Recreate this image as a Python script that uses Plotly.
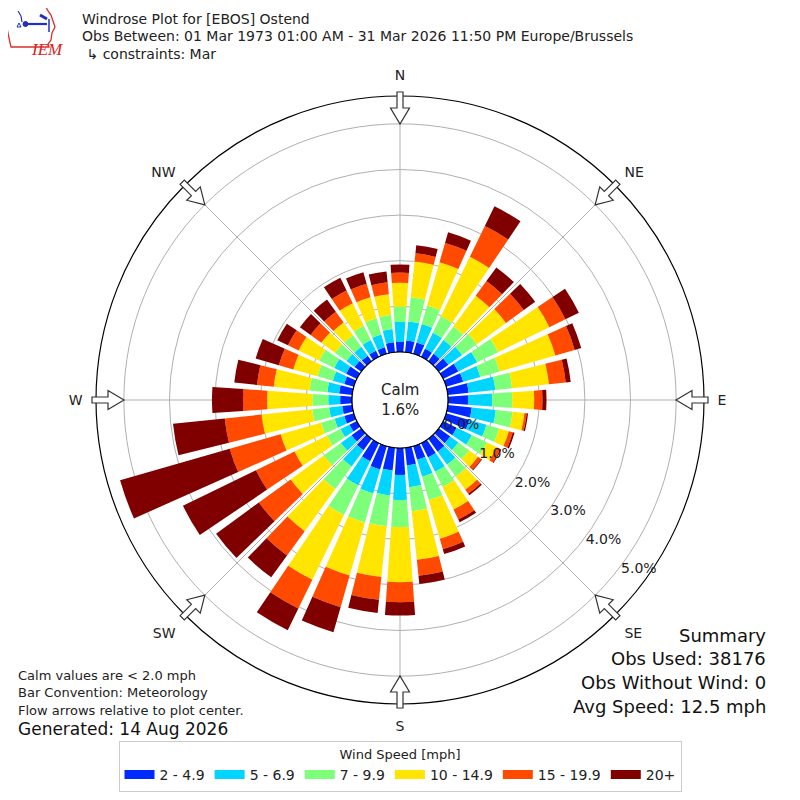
import math
import plotly.graph_objects as go

# ============================
# DATA (percent of obs per 10 deg direction bin)
# ============================
directions = [0, 10, 20, 30, 40, 50, 60, 70, 80, 90, 100, 110, 120, 130, 140, 150, 160, 170,
              180, 190, 200, 210, 220, 230, 240, 250, 260, 270, 280, 290, 300, 310, 320, 330, 340, 350]

speed_bins = ["2 - 4.9", "5 - 6.9", "7 - 9.9", "10 - 14.9", "15 - 19.9", "20+"]
bin_colors = ["#0029ff", "#00d5ff", "#7dff7a", "#ffe500", "#ff4a00", "#800000"]

spd_2_5 = [0.22, 0.26, 0.26, 0.20, 0.20, 0.26, 0.37, 0.39, 0.46, 0.44, 0.53, 0.53, 0.33, 0.31, 0.35, 0.35, 0.31, 0.39,
           0.59, 0.50, 0.53, 0.44, 0.31, 0.26, 0.18, 0.22, 0.22, 0.26, 0.29, 0.22, 0.26, 0.18, 0.15, 0.15, 0.15, 0.22]
spd_5_7 = [0.44, 0.42, 0.42, 0.39, 0.37, 0.37, 0.46, 0.39, 0.59, 0.53, 0.53, 0.39, 0.37, 0.22, 0.35, 0.35, 0.39, 0.48,
           0.55, 0.55, 0.55, 0.59, 0.44, 0.29, 0.22, 0.22, 0.29, 0.26, 0.26, 0.26, 0.29, 0.22, 0.24, 0.26, 0.29, 0.29]
spd_7_10 = [0.33, 0.53, 0.42, 0.40, 0.37, 0.40, 0.51, 0.44, 0.37, 0.44, 0.37, 0.29, 0.37, 0.29, 0.33, 0.37, 0.53, 0.53,
            0.59, 0.68, 0.66, 0.72, 0.61, 0.46, 0.33, 0.31, 0.37, 0.35, 0.39, 0.35, 0.37, 0.31, 0.31, 0.35, 0.37, 0.31]
spd_10_15 = [0.53, 0.79, 0.99, 1.45, 0.83, 0.79, 1.25, 1.27, 0.81, 0.48, 0.26, 0.22, 0.24, 0.24, 0.35, 0.55, 0.88, 1.07,
             1.21, 1.12, 1.21, 1.58, 1.14, 0.90, 0.79, 0.92, 1.12, 0.99, 0.79, 0.55, 0.50, 0.37, 0.35, 0.55, 0.48, 0.46]
spd_15_20 = [0.22, 0.18, 0.44, 0.75, 0.40, 0.48, 0.39, 0.44, 0.37, 0.18, 0.05, 0.09, 0.09, 0.09, 0.11, 0.24, 0.24, 0.35,
             0.44, 0.50, 0.72, 0.70, 0.66, 0.86, 0.94, 1.16, 0.81, 0.53, 0.37, 0.33, 0.26, 0.29, 0.29, 0.31, 0.31, 0.26]
spd_20 = [0.18, 0.18, 0.24, 0.48, 0.37, 0.31, 0.33, 0.15, 0.11, 0.09, 0.03, 0.04, 0.02, 0.02, 0.04, 0.07, 0.11, 0.18,
          0.29, 0.29, 0.57, 0.53, 0.59, 1.16, 1.78, 2.50, 1.14, 0.68, 0.50, 0.53, 0.26, 0.29, 0.33, 0.31, 0.26, 0.24]

series = [spd_2_5, spd_5_7, spd_7_10, spd_10_15, spd_15_20, spd_20]

compass_vals = [0, 45, 90, 135, 180, 225, 270, 315]
compass_text = ["N", "NE", "E", "SE", "S", "SW", "W", "NW"]
radial_ticks = [0, 1, 2, 3, 4, 5]
radial_labels = ["0.0%", "1.0%", "2.0%", "3.0%", "4.0%", "5.0%"]

calm_pct = "1.6%"
title_lines = ["Windrose Plot for [EBOS] Ostend",
               "Obs Between: 01 Mar 1973 01:00 AM - 31 Mar 2026 11:50 PM Europe/Brussels",
               " \u21b3 constraints: Mar"]
notes_left = ["Calm values are < 2.0 mph", "Bar Convention: Meteorology", "Flow arrows relative to plot center."]
generated = "Generated: 14 Aug 2026"
summary = ["Summary", "Obs Used: 38176", "Obs Without Wind: 0", "Avg Speed: 12.5 mph"]

FONT = "DejaVu Sans"
OFF = 8            # page body margin
W = H = 784        # figure size so the page is 800 wide
CX, CY, R_OUT, R_HOLE = 400, 400, 304, 48   # page pixels


def px(x):
    return (x - OFF) / W


def py(y):
    return 1 - (y - OFF) / H


def path_of(points, close=True):
    s = "M " + " L ".join(f"{px(x):.5f},{py(y):.5f}" for x, y in points)
    return s + (" Z" if close else "")


# ============================
# FIGURE
# ============================
fig = go.Figure()

for name, vals, col in zip(speed_bins, series, bin_colors):
    fig.add_trace(go.Barpolar(
        r=vals, theta=directions, width=8, name=name, showlegend=False,
        marker=dict(color=col, line=dict(width=0)),
    ))

# legend swatches (wide rectangles like the original)
for name, col in zip(speed_bins, bin_colors):
    fig.add_trace(go.Scatterpolar(
        r=[None], theta=[None], mode="lines", name=name,
        line=dict(color=col, width=9), hoverinfo="skip",
    ))

# hole edge circle
fig.add_trace(go.Scatterpolar(
    r=[0] * 73, theta=list(range(0, 365, 5)), mode="lines",
    line=dict(color="black", width=1), showlegend=False, hoverinfo="skip",
))

fig.update_layout(
    width=W, height=H,
    margin=dict(l=0, r=0, t=0, b=0),
    paper_bgcolor="white",
    font=dict(family=FONT, color="#222"),
    polar=dict(
        domain=dict(x=[px(CX - R_OUT), px(CX + R_OUT)], y=[py(CY + R_OUT), py(CY - R_OUT)]),
        bgcolor="white",
        hole=R_HOLE / R_OUT,
        barmode="stack",
        angularaxis=dict(
            direction="clockwise", rotation=90,
            tickmode="array", tickvals=compass_vals, ticktext=compass_text,
            showline=True, linecolor="black", linewidth=1.2,
            showgrid=True, gridcolor="#b0b0b0", gridwidth=1,
            ticks="outside", ticklen=10, tickcolor="rgba(0,0,0,0)",
            tickfont=dict(size=14, family=FONT, color="#222"),
        ),
        radialaxis=dict(
            range=[0, 5.61], tickmode="array", tickvals=radial_ticks, ticktext=radial_labels,
            showline=False, ticks="", angle=-39, tickangle=-39, side="counterclockwise",
            showgrid=True, gridcolor="#b0b0b0", gridwidth=1,
            tickfont=dict(size=14, family=FONT, color="#222"),
        ),
    ),
    legend=dict(
        orientation="h", x=px(400), xanchor="center", y=py(741), yanchor="top",
        bordercolor="#cccccc", borderwidth=1, bgcolor="white",
        font=dict(size=14, family=FONT, color="#222"),
        title=dict(text="Wind Speed [mph]", side="top center", font=dict(size=13, family=FONT)),
        traceorder="normal",
    ),
)

# direction arrows pointing to the center
shapes = []
arrow = [(308, -3), (292, -3), (292, -9.5), (276, 0), (292, 9.5), (292, 3), (308, 3)]
for d in compass_vals:
    s, c = math.sin(math.radians(d)), math.cos(math.radians(d))
    pts = [(CX + a * s + w * c, CY - a * c + w * s) for a, w in arrow]
    shapes.append(dict(type="path", path=path_of(pts), xref="paper", yref="paper",
                       line=dict(color="#333", width=1.2), fillcolor="white"))

# IEM logo (rough): state outline + station glyph
iowa = [(6, 7), (46, 7), (48, 11), (51, 15), (53, 21), (55, 27), (52, 33), (51, 40), (48, 44), (49, 47),
        (11, 47), (9, 38), (7, 28), (5, 16)]
shapes.append(dict(type="path", xref="paper", yref="paper", path=path_of(iowa),
                   line=dict(color="#d83030", width=1.3), fillcolor="white"))
glyph = [((25, 24), (47, 24), 2.2), ((40, 15), (47, 19), 3), ((49, 19), (49, 32), 1.5),
         ((18, 11), (21, 16), 1.2), ((21, 16), (22, 22), 1.2)]
for (x0, y0), (x1, y1), lw in glyph:
    shapes.append(dict(type="line", xref="paper", yref="paper", x0=px(x0), x1=px(x1), y0=py(y0), y1=py(y1),
                       line=dict(color="#2030c0", width=lw)))
shapes.append(dict(type="circle", xref="paper", yref="paper", x0=px(23), x1=px(28), y0=py(26.5), y1=py(21.5),
                   line=dict(color="#2030c0", width=1), fillcolor="#2030c0"))
shapes.append(dict(type="path", xref="paper", yref="paper", path=path_of([(17, 27), (19, 23), (21, 27)]),
                   line=dict(color="#2030c0", width=1), fillcolor="white"))
fig.update_layout(shapes=shapes)

ann = []
ann.append(dict(text="<i>IEM</i>", x=px(29), y=py(38), xref="paper", yref="paper", showarrow=False,
                font=dict(family="Liberation Serif", size=17, color="#e02020")))
for i, t in enumerate(title_lines):
    ann.append(dict(text=t, x=px(80), y=py(19 + 17.5 * i), xref="paper", yref="paper",
                    xanchor="left", yanchor="middle", showarrow=False, font=dict(size=14, color="#222")))
ann.append(dict(text="Calm<br>" + calm_pct, x=px(CX), y=py(CY), xref="paper", yref="paper",
                showarrow=False, font=dict(size=15, color="#222")))
for i, t in enumerate(notes_left):
    ann.append(dict(text=t, x=px(16), y=py(675 + 17.5 * i), xref="paper", yref="paper",
                    xanchor="left", yanchor="middle", showarrow=False, font=dict(size=13, color="#222")))
ann.append(dict(text=generated, x=px(16), y=py(729), xref="paper", yref="paper",
                xanchor="left", yanchor="middle", showarrow=False, font=dict(size=17, color="#111")))
for i, t in enumerate(summary):
    ann.append(dict(text=t, x=px(768), y=py(635 + 23.7 * i), xref="paper", yref="paper",
                    xanchor="right", yanchor="middle", showarrow=False, font=dict(size=18, color="#111")))
fig.update_layout(annotations=ann)

fig.write_html("out.html")
